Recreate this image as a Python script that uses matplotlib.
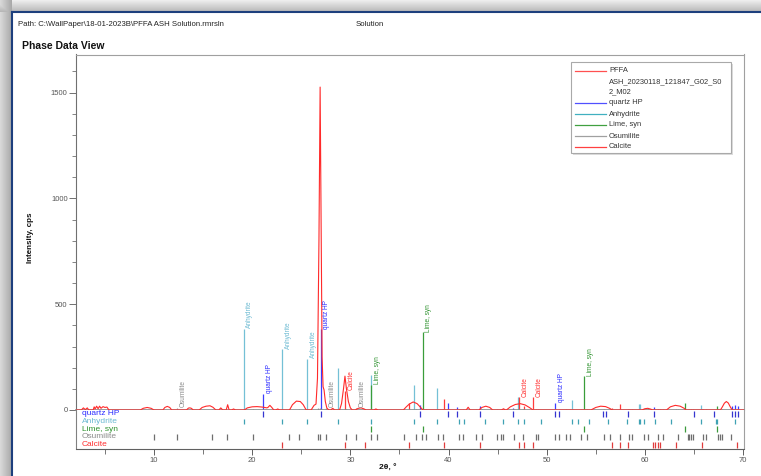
import numpy as np
import matplotlib
matplotlib.use("Agg")
import matplotlib.pyplot as plt
from matplotlib.patches import Rectangle
from matplotlib.transforms import blended_transform_factory

plt.rcParams['font.family'] = ['Liberation Sans', 'DejaVu Sans']

prof_x = [2.1, 2.6, 2.8, 3.0, 3.2, 3.35, 3.8, 3.9, 4.0, 4.15, 4.3, 4.45, 4.6, 4.8, 5.0, 5.2, 5.4,
          8.6, 8.9, 9.3, 9.7, 10.0, 10.9, 11.1, 11.35, 11.6, 11.8, 13.3, 13.5, 13.65, 13.8, 14.0,
          14.6, 14.9, 15.3, 15.7, 16.0, 16.3, 16.6, 16.8, 17.0, 17.35, 17.5, 17.65, 17.9, 18.1, 18.3,
          19.2, 19.5, 20.0, 20.5, 21.0, 21.5, 21.6, 21.8, 22.0, 22.2, 22.4, 22.6, 22.8,
          23.8, 24.1, 24.5, 24.9, 25.2, 25.5,
          26.0, 26.3, 26.5, 26.65, 26.8, 26.92, 27.02, 27.12, 27.22, 27.32, 27.45, 27.6, 27.8,
          28.0, 28.2, 28.4, 28.9, 29.1, 29.3, 29.45, 29.6, 29.8, 30.0, 30.2,
          30.5, 30.8, 31.1, 31.4, 31.6, 32.4, 32.6, 32.8,
          35.4, 35.7, 36.0, 36.4, 36.8, 37.1, 37.4, 41.8, 42.0, 42.2,
          43.1, 43.4, 43.8, 44.2, 44.5, 45.4, 45.6, 45.8,
          45.9, 46.3, 46.8, 47.3, 47.8, 48.3, 48.6,
          54.5, 55.0, 55.5, 56.0, 56.4, 56.7, 59.7, 60.0, 60.3, 60.6, 60.8,
          62.2, 62.6, 63.1, 63.6, 64.0, 64.2, 67.7, 67.9, 68.1, 68.3, 68.5, 68.7, 68.9, 70.05]
prof_y = [0, 0, 10, 2, 10, 0, 0, 15, 5, 18, 6, 18, 8, 16, 12, 14, 0,
          0, 8, 12, 8, 0, 0, 12, 17, 12, 0, 0, 9, 10, 8, 0,
          0, 12, 18, 20, 13, 0, 0, 10, 0, 0, 25, 0, 0, 5, 0,
          0, 10, 15, 16, 14, 10, 12, 22, 12, 0, 0, 5, 0,
          0, 25, 42, 40, 25, 0,
          0, 22, 28, 150, 800, 1526, 850, 250, 110, 95, 40, 10, 0,
          0, 8, 0, 0, 30, 100, 160, 100, 40, 10, 0,
          0, 8, 10, 5, 0, 0, 5, 0,
          0, 15, 28, 38, 30, 15, 0, 0, 13, 0,
          0, 12, 18, 12, 0, 0, 6, 0,
          0, 15, 26, 30, 24, 10, 0,
          0, 12, 18, 16, 8, 0, 0, 6, 8, 4, 0,
          0, 15, 22, 18, 8, 0, 0, 15, 32, 40, 33, 15, 0, 0]

phases = ['quartz HP', 'Anhydrite', 'Lime, syn', 'Osumilite', 'Calcite']

quartz_pos = [21.12, 26.99, 37.13, 39.98, 40.9, 43.16, 46.55, 50.87, 51.23, 55.71, 56.05,
              58.25, 60.97, 64.96, 67.0, 68.83, 69.2, 69.54]
quartz_h = [76, 381, 24, 33, 13, 19, 8, 34, 0, 0, 0, 0, 14, 0, 0, 20, 22, 18]

anhy_pos = [19.13, 23.05, 25.6, 28.69, 32.15, 36.48, 38.82, 41.03, 41.57, 43.67, 45.6, 47.06,
            47.64, 49.44, 52.6, 53.17, 54.28, 56.22, 58.15, 59.37, 59.54, 59.95, 61.04, 62.67,
            65.72, 67.24, 67.4, 69.2]
anhy_h = [384, 286, 243, 200, 167, 119, 105, 0, 0, 0, 0, 62, 0, 0, 45, 0, 0, 0, 0, 30, 30, 0,
          0, 0, 22, 0, 0, 0]

lime_pos = [32.15, 37.37, 53.85, 64.12, 67.35]
lime_h = [120, 367, 159, 32, 19]

osum_pos = [10.0, 12.31, 15.9, 17.4, 20.1, 23.73, 24.78, 26.71, 26.88, 27.5, 29.6, 30.55, 32.15,
            32.76, 35.43, 36.72, 37.33, 37.67, 38.92, 39.43, 41.03, 41.47, 42.83, 43.4, 44.97,
            45.37, 45.54, 46.72, 47.57, 48.93, 49.1, 50.87, 51.23, 51.98, 52.42, 53.5, 54.08,
            55.88, 56.49, 57.48, 58.42, 58.7, 59.95, 60.29, 61.3, 61.81, 63.34, 64.35, 64.53,
            64.7, 64.86, 65.95, 66.22, 67.48, 67.65, 67.85, 68.77]
osum_h = [3, 10, 3, 3, 3, 3, 3, 8, 8, 10, 5, 10, 4, 4, 3, 6, 4, 4, 4, 4, 3, 3, 3, 3, 3,
          3, 3, 3, 4, 4, 4, 3, 3, 3, 3, 3, 3, 3, 3, 3, 3, 3, 3, 3, 3, 3, 3, 3, 3,
          3, 3, 3, 3, 3, 3, 3, 3]

calc_pos = [23.05, 29.43, 31.5, 35.97, 39.5, 43.16, 47.13, 47.64, 48.59, 56.66, 57.48, 58.25,
            60.87, 61.04, 61.3, 61.55, 63.17, 65.78, 69.34]
calc_h = [0, 90, 0, 35, 52, 10, 60, 20, 60, 10, 27, 5, 5, 5, 5, 5, 5, 5, 5]

# labelled lines: (phase index, position)
labels = [(3, 12.31), (1, 19.13), (0, 21.12), (1, 23.05), (1, 25.6), (0, 26.99), (3, 27.5),
          (4, 29.43), (3, 30.55), (2, 32.15), (2, 37.37), (4, 47.13), (4, 48.59), (0, 50.87),
          (2, 53.85)]

stick_col = ['#3c3cff', '#74c0d6', '#3a9d3a', '#9a9a9a', '#ff3b3b']
strip_col = ['#3535d0', '#3fa2b4', '#3a9a3a', '#6e6e6e', '#e03c3c']
text_col = ['#2b2bff', '#6cbad2', '#2e922e', '#8c8c8c', '#ff3030']
red = '#ff2a2a'

all_pos = [quartz_pos, anhy_pos, lime_pos, osum_pos, calc_pos]
all_h = [quartz_h, anhy_h, lime_h, osum_h, calc_h]

W, H = 761, 476
def fx(px):
    return px / W
def fy(py):
    return 1 - py / H

fig = plt.figure(figsize=(W / 100, H / 100), dpi=100)

# window background / shadow
bg = fig.add_axes([0, 0, 1, 1], zorder=-10)
img = np.ones((H, W, 3))
for i in range(12):
    img[i, :, :] = np.minimum(img[i, :, :], 0.93 - 0.019 * i)
    img[:, i, :] = np.minimum(img[:, i, :], 0.85 - 0.017 * i)
bg.imshow(img, extent=(0, W, H, 0), aspect='auto')
bg.set_xlim(0, W)
bg.set_ylim(H, 0)
bg.plot([12, 12], [12, H], color='#1d3f7d', lw=1.5)
bg.plot([12, W], [12, 12], color='#1d3f7d', lw=1.5)
bg.axis('off')

# main panel
ax = fig.add_axes([fx(76), fy(410), fx(743.5) - fx(76), fy(54.5) - fy(410)])
ax.plot(prof_x, prof_y, color=red, lw=0.8, zorder=3)
for k in range(5):
    for p, h in zip(all_pos[k], all_h[k]):
        if h > 0:
            ax.vlines(p, 0, h, color=stick_col[k], lw=0.9, zorder=2)
for k, p in labels:
    h = all_h[k][all_pos[k].index(p)]
    ax.annotate(phases[k], (p, h), xytext=(1.9, 0.5), textcoords='offset points',
                rotation=90, ha='left', va='bottom', fontsize=4.7, color=text_col[k])
ax.set_xlim(2.05, 70.05)
ax.set_ylim(0, 1680)
ax.set_yticks([0, 500, 1000, 1500])
ax.set_yticks(np.arange(0, 1700, 100), minor=True)
ax.tick_params(axis='y', which='major', length=5, width=0.7, color='#707070',
               labelsize=5.5, labelcolor='#555555', pad=1)
ax.tick_params(axis='y', which='minor', length=3, width=0.6, color='#707070')
ax.tick_params(axis='x', which='both', bottom=False, labelbottom=False)
for s in ['top', 'right']:
    ax.spines[s].set_color('#a0a0a0')
    ax.spines[s].set_linewidth(0.8)
ax.spines['left'].set_color('#707070')
ax.spines['left'].set_linewidth(0.8)
ax.spines['bottom'].set_color('#8a8a8a')
ax.spines['bottom'].set_linewidth(1.2)

# strip panel with phase positions
sx = fig.add_axes([fx(76), fy(448.5), fx(743.5) - fx(76), fy(410) - fy(448.5)], sharex=ax)
for k in range(5):
    sx.vlines(all_pos[k], k + 0.12, k + 0.88, color=strip_col[k], lw=0.9)
tr = blended_transform_factory(sx.transAxes, sx.transData)
for k in range(5):
    sx.text(0.009, k + 0.5, phases[k], transform=tr, fontsize=6, color=text_col[k],
            va='center', ha='left')
sx.set_ylim(5, 0)
sx.set_yticks([])
sx.set_xticks(np.arange(10, 71, 10))
sx.set_xticks(np.arange(5, 70, 10), minor=True)
sx.tick_params(axis='x', which='major', length=4.5, width=0.7, color='#606060',
               labelsize=5.5, labelcolor='#555555', pad=1.5)
sx.tick_params(axis='x', which='minor', length=3.5, width=0.6, color='#606060')
sx.spines['top'].set_visible(False)
sx.spines['left'].set_color('#808080')
sx.spines['right'].set_color('#a0a0a0')
sx.spines['bottom'].set_color('#606060')
for s in ['left', 'right', 'bottom']:
    sx.spines[s].set_linewidth(0.8)

# overlay: titles, axis labels, legend
ov = fig.add_axes([0, 0, 1, 1], zorder=10)
ov.set_xlim(0, W)
ov.set_ylim(H, 0)
ov.patch.set_alpha(0)
ov.axis('off')
ov.text(18, 25, 'Path: C:\\WallPaper\\18-01-2023B\\PFFA ASH Solution.rmrsln', fontsize=5.6,
        color='#222222', va='center')
ov.text(356, 25, 'Solution', fontsize=5.6, color='#222222', va='center')
ov.text(22, 46, 'Phase Data View', fontsize=7.5, fontweight='bold', color='#111111', va='center')
ov.text(31, 238, 'Intensity, cps', fontsize=5.8, fontweight='bold', rotation=90,
        ha='center', va='center', color='#111111')
ov.text(388, 468, '2θ, °', fontsize=6, fontweight='bold', ha='center', va='center',
        color='#111111')

ov.add_patch(Rectangle((572.5, 63.5), 160, 91, fc='#dcdcdc', ec='none'))
ov.add_patch(Rectangle((571, 62), 160, 91, fc='white', ec='#a9a9a9', lw=0.8))
leg_rows = [70.5, 81.5, 92, 103, 114, 125, 136, 147]
leg_text = ['PFFA', 'ASH_20230118_121847_G02_S0', '2_M02'] + phases
leg_line = ['#ff5050', None, None, '#5050ff', '#40b0c0', '#40a040', '#a0a0a0', '#ff4040']
for yy, t, c in zip(leg_rows, leg_text, leg_line):
    if c is not None:
        ov.plot([575, 606], [yy, yy], color=c, lw=0.9)
    ov.text(609, yy, t, fontsize=5.4, color='#333333', va='center')

fig.savefig('out.png', dpi=100)
